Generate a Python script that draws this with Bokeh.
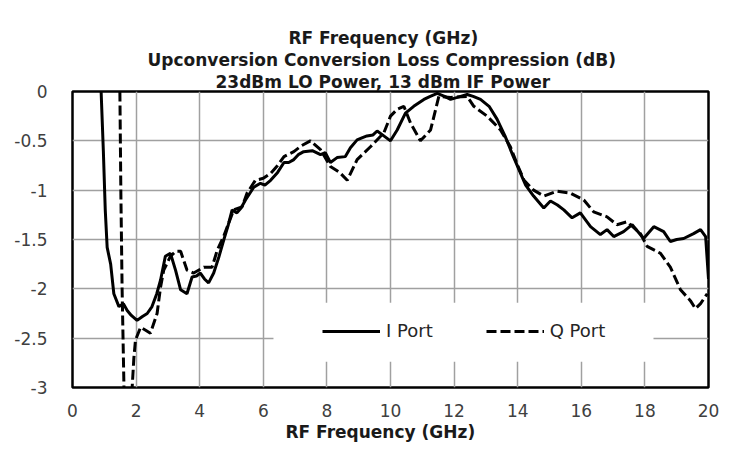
from bokeh.plotting import figure
from bokeh.models import (Range1d, Legend, LegendItem, BoxAnnotation, Title, FixedTicker,
                          LinearAxis)
from bokeh.embed import file_html
from bokeh.resources import INLINE

# ---- data ----
i_freq = [0.90, 0.97, 1.03, 1.09, 1.20, 1.30, 1.46, 1.60, 1.72, 1.85, 2.03, 2.20, 2.35, 2.50,
          2.65, 2.77, 2.92, 3.08, 3.24, 3.40, 3.60, 3.76, 3.90, 4.02, 4.15, 4.28, 4.44, 4.60,
          4.76, 4.90, 5.02, 5.17, 5.30, 5.44, 5.70, 5.91, 6.05, 6.23, 6.45, 6.65, 6.80, 6.96,
          7.10, 7.27, 7.54, 7.80, 7.95, 8.11, 8.32, 8.58, 8.74, 8.95, 9.10, 9.26, 9.45, 9.58,
          9.79, 10.00, 10.21, 10.47, 10.73, 11.05, 11.25, 11.47, 11.70, 11.89, 12.10, 12.41,
          12.60, 12.83, 13.10, 13.35, 13.60, 13.85, 14.05, 14.25, 14.50, 14.82, 15.03, 15.25,
          15.45, 15.71, 15.97, 16.29, 16.60, 16.81, 17.02, 17.33, 17.60, 17.96, 18.28, 18.59,
          18.80, 19.00, 19.22, 19.53, 19.75, 19.91, 20.00]
i_loss = [0.00, -0.60, -1.20, -1.58, -1.75, -2.05, -2.18, -2.15, -2.22, -2.27, -2.32, -2.28,
          -2.25, -2.18, -2.05, -1.91, -1.67, -1.64, -1.81, -2.01, -2.05, -1.88, -1.87, -1.84,
          -1.90, -1.94, -1.84, -1.68, -1.50, -1.35, -1.20, -1.23, -1.18, -1.10, -0.97, -0.93,
          -0.95, -0.90, -0.82, -0.72, -0.72, -0.69, -0.64, -0.61, -0.60, -0.64, -0.62, -0.72,
          -0.67, -0.66, -0.57, -0.49, -0.47, -0.45, -0.44, -0.40, -0.45, -0.50, -0.39, -0.22,
          -0.15, -0.08, -0.05, -0.02, -0.05, -0.08, -0.06, -0.03, -0.05, -0.08, -0.15, -0.28,
          -0.45, -0.65, -0.80, -0.95, -1.06, -1.18, -1.11, -1.15, -1.20, -1.28, -1.23, -1.37,
          -1.45, -1.40, -1.47, -1.42, -1.35, -1.49, -1.37, -1.42, -1.52, -1.50, -1.49, -1.44,
          -1.40, -1.47, -1.90]

q_freq = [1.49, 1.52, 1.56, 1.63, 1.84, 1.93, 1.98, 2.14, 2.30, 2.45, 2.66, 2.77, 2.87, 3.08,
          3.25, 3.40, 3.60, 3.81, 4.13, 4.39, 4.55, 4.75, 5.07, 5.33, 5.49, 5.75, 6.00, 6.23,
          6.45, 6.65, 6.96, 7.20, 7.48, 7.80, 8.11, 8.40, 8.64, 8.95, 9.37, 9.79, 10.00, 10.21,
          10.42, 10.63, 10.94, 11.26, 11.52, 11.89, 12.41, 12.62, 13.04, 13.46, 13.77, 14.00,
          14.20, 14.50, 14.82, 15.24, 15.66, 16.08, 16.39, 16.81, 17.12, 17.44, 17.86, 18.07,
          18.49, 18.80, 19.12, 19.43, 19.59, 19.75, 19.96]
q_loss = [0.00, -1.00, -2.00, -3.20, -3.20, -2.70, -2.52, -2.39, -2.42, -2.45, -2.25, -1.98,
          -1.81, -1.67, -1.62, -1.62, -1.81, -1.84, -1.78, -1.78, -1.61, -1.47, -1.20, -1.17,
          -1.03, -0.90, -0.88, -0.83, -0.75, -0.66, -0.61, -0.55, -0.50, -0.59, -0.76, -0.82,
          -0.90, -0.69, -0.56, -0.42, -0.25, -0.18, -0.15, -0.32, -0.50, -0.39, -0.05, -0.06,
          -0.05, -0.15, -0.25, -0.39, -0.56, -0.75, -0.90, -1.00, -1.06, -1.01, -1.03, -1.10,
          -1.22, -1.27, -1.35, -1.32, -1.44, -1.57, -1.64, -1.78, -2.01, -2.12, -2.20, -2.15,
          -2.05]

x_ticks = [0, 2, 4, 6, 8, 10, 12, 14, 16, 18, 20]
y_ticks = [0, -0.5, -1, -1.5, -2, -2.5, -3]
series_names = ["I Port", "Q Port"]
title_lines = ["RF Frequency (GHz)",
               "Upconversion Conversion Loss Compression (dB)",
               "23dBm LO Power, 13 dBm IF Power"]
x_label = "RF Frequency (GHz)"

TITLE_FONT = "DejaVu Sans"
TICK_FONT = "DejaVu Sans"
TITLE_SIZE = "17px"

p = figure(width=736, height=466, output_backend="svg", toolbar_location=None,
           x_range=Range1d(0, 20), y_range=Range1d(-3, 0),
           min_border_left=72, min_border_right=28, min_border_top=91, min_border_bottom=79)
p.background_fill_color = "white"
p.border_fill_color = "white"
p.outline_line_color = "black"
p.outline_line_width = 2.5

# keep references to the main axes before any spacer axis is added
xa = p.xaxis[0]
ya = p.yaxis[0]

for ax in (xa, ya):
    ax.axis_line_color = None
    ax.major_tick_line_color = None
    ax.minor_tick_line_color = None
    ax.major_label_text_font = TICK_FONT
    ax.major_label_text_font_size = "17px"
    ax.major_label_text_color = "#404040"
xa.ticker = FixedTicker(ticks=x_ticks)
ya.ticker = FixedTicker(ticks=y_ticks)
xa.major_label_standoff = 10
ya.major_label_standoff = 19
ya.major_label_overrides = {v: ("%g" % v) for v in y_ticks}


def make_title(text, offset, standoff):
    return Title(text=text, align="left", offset=offset, standoff=standoff,
                 text_font=TITLE_FONT, text_font_style="bold",
                 text_font_size=TITLE_SIZE, text_color="#1a1a1a")


def gap_axis(size):
    # an axis with no ticks, labels or line: it only reserves space in a side panel
    return LinearAxis(ticker=FixedTicker(ticks=[]), axis_line_color=None,
                      major_tick_line_color="white", minor_tick_line_color=None,
                      major_tick_in=0, major_tick_out=size, minor_tick_out=0,
                      minor_tick_in=0, major_label_standoff=0)


# titles: p.title is the outermost line, added ones stack from the frame outwards
p.title = make_title(title_lines[0], 216, 0)
p.add_layout(gap_axis(23), "above")
p.add_layout(make_title(title_lines[2], 143, 0), "above")
p.add_layout(make_title(title_lines[1], 75, 0), "above")

p.add_layout(gap_axis(20), "below")
p.add_layout(make_title(x_label, 213, 0), "below")

# grid
p.xgrid.grid_line_color = "#a0a0a0"
p.ygrid.grid_line_color = "#a0a0a0"
p.xgrid.grid_line_width = 1.5
p.ygrid.grid_line_width = 1.5
p.xgrid.ticker = FixedTicker(ticks=x_ticks)
p.ygrid.ticker = FixedTicker(ticks=y_ticks)

r_i = p.line(i_freq, i_loss, line_color="black", line_width=3)
r_q = p.line(q_freq, q_loss, line_color="black", line_width=3, line_dash="10 4")

# white legend box that hides the grid
box = BoxAnnotation(left=6.32, right=18.27, bottom=-2.74, top=-2.14,
                    fill_color="white", fill_alpha=1.0, line_alpha=0)
p.add_layout(box)

legend = Legend(items=[LegendItem(label=series_names[0], renderers=[r_i]),
                       LegendItem(label=series_names[1], renderers=[r_q])],
                orientation="horizontal", location=(250, 46),
                glyph_width=58, label_standoff=6, spacing=53, padding=0, margin=0,
                background_fill_alpha=0, border_line_alpha=0,
                label_text_font=TICK_FONT, label_text_font_size="18px",
                label_text_color="#262626")
p.add_layout(legend)

open("out.html", "w").write(file_html(p, INLINE))
